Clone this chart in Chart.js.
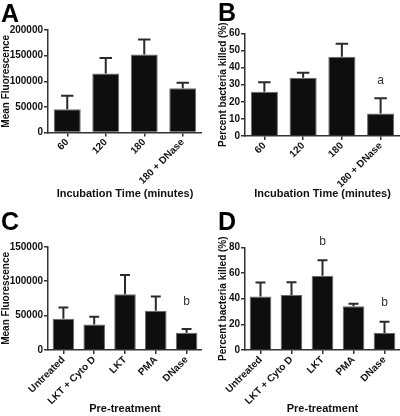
<!DOCTYPE html>
<html>
<head>
<meta charset="utf-8">
<script src="https://cdn.jsdelivr.net/npm/chart.js@4.4.0/dist/chart.umd.min.js"></script>
<style>
  html, body { margin: 0; padding: 0; background: #fff; }
  #wrap { position: relative; width: 400px; height: 416px; overflow: hidden; }
  canvas { position: absolute; }
</style>
</head>
<body>
<div id="wrap">
  <canvas id="chartA" width="202" height="208" style="left:0;top:0"></canvas>
  <canvas id="chartB" width="200" height="208" style="left:200px;top:0"></canvas>
  <canvas id="chartC" width="202" height="208" style="left:0;top:208px"></canvas>
  <canvas id="chartD" width="200" height="208" style="left:200px;top:208px"></canvas>
</div>
<script>
// categories
const timeLabels = ['60', '120', '180', '180 + DNase'];
const treatLabels = ['Untreated', 'LKT + Cyto D', 'LKT', 'PMA', 'DNase'];

// panel A: mean fluorescence vs incubation time
const fluorTime = [45400, 115300, 152000, 86200];
const fluorTimeErr = [26400, 30300, 29300, 10900];

// panel B: percent bacteria killed vs incubation time
const killedTime = [25.9, 34.1, 46.3, 13.2];
const killedTimeErr = [5.5, 2.9, 7.6, 8.8];
const killedTimeNotes = ['', '', '', 'a'];

// panel C: mean fluorescence vs pre-treatment
const fluorTreat = [45400, 37100, 81200, 57000, 25100];
const fluorTreatErr = [16300, 11200, 27900, 20700, 5300];
const fluorTreatNotes = ['', '', '', '', 'b'];

// panel D: percent bacteria killed vs pre-treatment
const killedTreat = [41.6, 42.9, 57.9, 34.0, 13.2];
const killedTreatErr = [10.9, 9.8, 12.0, 2.1, 8.9];
const killedTreatNotes = ['', '', 'b', '', 'b'];

const FONT = '"Liberation Sans", Arial, Helvetica, sans-serif';
const INK = '#111';

// error bars (upper only), significance letters and panel letter
const panelDecor = {
  id: 'panelDecor',
  afterDatasetsDraw(chart, args, o) {
    const ctx = chart.ctx;
    const yScale = chart.scales.y;
    const meta = chart.getDatasetMeta(0);
    ctx.save();
    meta.data.forEach((bar, i) => {
      const top = yScale.getPixelForValue(o.values[i] + o.errors[i]);
      const cap = bar.width * 0.46;
      ctx.strokeStyle = '#2a2a2a';
      ctx.lineWidth = 2;
      ctx.beginPath();
      ctx.moveTo(bar.x, bar.y);
      ctx.lineTo(bar.x, top);
      ctx.moveTo(bar.x - cap / 2, top);
      ctx.lineTo(bar.x + cap / 2, top);
      ctx.stroke();
      if (o.notes && o.notes[i]) {
        ctx.fillStyle = '#333';
        ctx.font = '12px ' + FONT;
        ctx.textAlign = 'center';
        ctx.textBaseline = 'middle';
        ctx.fillText(o.notes[i], bar.x, top - o.noteGap);
      }
    });
    ctx.fillStyle = '#000';
    ctx.font = 'bold 25px ' + FONT;
    ctx.textAlign = 'left';
    ctx.textBaseline = 'alphabetic';
    ctx.fillText(o.letter, o.letterX, o.letterY);
    ctx.restore();
  }
};

function makePanel(id, p) {
  return new Chart(document.getElementById(id), {
    type: 'bar',
    data: {
      labels: p.labels,
      datasets: [{
        data: p.values,
        backgroundColor: '#0e0e0e',
        borderColor: '#6a6a6a',
        borderWidth: 1,
        barPercentage: 0.7,
        categoryPercentage: 1
      }]
    },
    options: {
      responsive: false,
      animation: false,
      layout: { padding: { top: p.padTop, left: 0, right: 0, bottom: 0 } },
      plugins: {
        legend: { display: false },
        tooltip: { enabled: false },
        panelDecor: {
          values: p.values, errors: p.errors, notes: p.notes, noteGap: p.noteGap,
          letter: p.letter, letterX: p.letterX, letterY: p.letterY
        }
      },
      scales: {
        x: {
          offset: true,
          grid: { drawOnChartArea: false, offset: false, tickLength: 4, color: '#333', lineWidth: 1.5 },
          border: { display: true, color: '#333', width: 1.5 },
          ticks: {
            color: INK, font: { family: FONT, size: 10, weight: 'bold' },
            minRotation: 45, maxRotation: 45, padding: 0, autoSkip: false
          },
          title: {
            display: true, text: p.xTitle, color: INK,
            font: { family: FONT, size: 11, weight: 'bold' },
            padding: { top: 0, bottom: p.xTitlePad }
          },
          afterFit: s => { s.height = p.xHeight; }
        },
        y: {
          min: 0,
          max: p.yMax,
          grid: { drawOnChartArea: false, tickLength: 4, color: '#333', lineWidth: 1.5 },
          border: { display: true, color: '#333', width: 1.5 },
          ticks: {
            stepSize: p.yStep, color: INK, font: { family: FONT, size: 10, weight: 'bold' },
            padding: 1, callback: v => String(v)
          },
          title: {
            display: true, text: p.yTitle, color: INK,
            font: { family: FONT, size: p.yTitleSize, weight: 'bold' },
            padding: { top: p.yTitlePad, bottom: 0 }
          },
          afterFit: s => { s.width = p.yWidth; }
        }
      }
    },
    plugins: [panelDecor]
  });
}

makePanel('chartA', {
  labels: timeLabels, values: fluorTime, errors: fluorTimeErr, notes: null, noteGap: 0,
  letter: 'A', letterX: 1, letterY: 22,
  yMax: 200000, yStep: 50000, yTitle: 'Mean Fluorescence', yTitleSize: 10, yTitlePad: 0,
  xTitle: 'Incubation Time (minutes)', xTitlePad: 7.4,
  padTop: 30, yWidth: 48, xHeight: 75.5
});

makePanel('chartB', {
  labels: timeLabels, values: killedTime, errors: killedTimeErr, notes: killedTimeNotes, noteGap: 18,
  letter: 'B', letterX: 18, letterY: 21,
  yMax: 60, yStep: 10, yTitle: 'Percent bacteria killed (%)', yTitleSize: 10, yTitlePad: 17.5,
  xTitle: 'Incubation Time (minutes)', xTitlePad: 7.4,
  padTop: 33.3, yWidth: 45, xHeight: 72
});

makePanel('chartC', {
  labels: treatLabels, values: fluorTreat, errors: fluorTreatErr, notes: fluorTreatNotes, noteGap: 27,
  letter: 'C', letterX: 1, letterY: 22,
  yMax: 150000, yStep: 50000, yTitle: 'Mean Fluorescence', yTitleSize: 10, yTitlePad: 0,
  xTitle: 'Pre-treatment', xTitlePad: 0,
  padTop: 38.8, yWidth: 48, xHeight: 66
});

makePanel('chartD', {
  labels: treatLabels, values: killedTreat, errors: killedTreatErr, notes: killedTreatNotes, noteGap: 19,
  letter: 'D', letterX: 18, letterY: 22,
  yMax: 80, yStep: 10, yTitle: 'Percent bacteria killed (%)', yTitleSize: 10, yTitlePad: 17,
  xTitle: 'Pre-treatment', xTitlePad: 0,
  padTop: 39.3, yWidth: 45, xHeight: 66
});
</script>
</body>
</html>
